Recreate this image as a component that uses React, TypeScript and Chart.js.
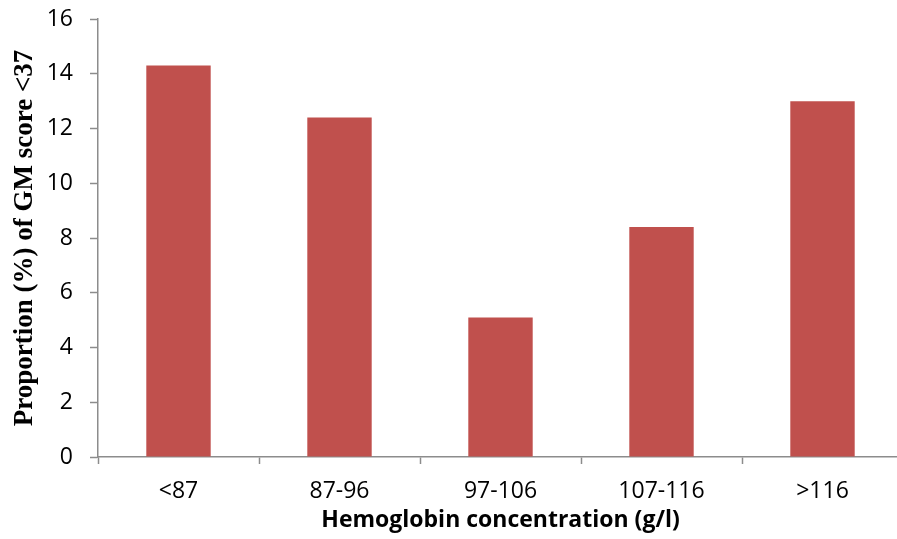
import React, { useEffect, useRef } from "react";
import { Chart, registerables } from "chart.js";

Chart.register(...registerables);

const categories = ["<87", "87-96", "97-106", "107-116", ">116"];
const proportions = [14.3, 12.4, 5.1, 8.4, 13.0];
const yTicks = [0, 2, 4, 6, 8, 10, 12, 14, 16];

export default function App() {
  const ref = useRef<HTMLCanvasElement>(null);
  useEffect(() => {
    if (!ref.current) return;
    const chart = new Chart(ref.current, {
      type: "bar",
      data: {
        labels: categories,
        datasets: [
          {
            data: proportions,
            backgroundColor: "#C0504D",
            barPercentage: 1,
            categoryPercentage: 0.4,
          },
        ],
      },
      options: {
        animation: false,
        responsive: false,
        maintainAspectRatio: false,
        layout: { padding: { top: 19, right: 0, bottom: 0, left: 0 } },
        plugins: { legend: { display: false }, tooltip: { enabled: false } },
        scales: {
          x: {
            offset: true,
            grid: {
              offset: true,
              drawOnChartArea: false,
              tickLength: 7,
              color: "#8c8c8c",
              tickWidth: 1.5,
            },
            border: { color: "#8c8c8c", width: 1.5 },
            ticks: {
              color: "#000",
              padding: 14,
              font: { family: "'Open Sans'", size: 23 },
            },
            title: {
              display: true,
              text: "Hemoglobin concentration (g/l)",
              color: "#000",
              padding: { top: 0, bottom: 5 },
              font: { family: "'Open Sans'", size: 23, weight: "bold" },
            },
            afterFit: (s: any) => {
              s.height = 82;
              s.paddingLeft = 0;
              s.paddingRight = 0;
            },
          },
          y: {
            min: 0,
            max: 16,
            afterBuildTicks: (s: any) => {
              s.ticks = yTicks.map((v) => ({ value: v }));
            },
            grid: {
              drawOnChartArea: false,
              tickLength: 8,
              color: "#8c8c8c",
              tickWidth: 1.5,
            },
            border: { color: "#8c8c8c", width: 1.5 },
            ticks: {
              color: "#000",
              padding: 17,
              font: { family: "'Open Sans'", size: 23 },
            },
            title: {
              display: true,
              text: "Proportion (%) of GM score <37",
              color: "#000",
              padding: { top: 9, bottom: 0 },
              font: { family: "'Liberation Serif'", size: 27, weight: "bold" },
            },
            afterFit: (s: any) => {
              s.width = 98;
              s.paddingTop = 0;
              s.paddingBottom = 0;
            },
          },
        },
      },
    });
    return () => chart.destroy();
  }, []);
  return (
    <div
      style={{
        position: "fixed",
        left: 0,
        top: 0,
        width: 897,
        height: 539,
        overflow: "hidden",
        background: "#fff",
      }}
    >
      <canvas ref={ref} width={903} height={539} style={{ display: "block" }} />
    </div>
  );
}
